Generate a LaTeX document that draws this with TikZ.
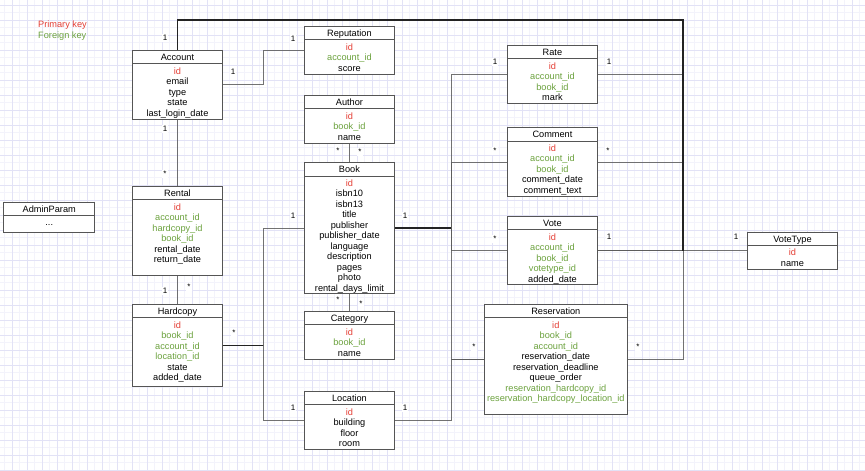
\documentclass[tikz,border=0pt]{standalone}
\usepackage{fontspec}
\setmainfont{Liberation Sans}
\usetikzlibrary{positioning}

\newcommand\pkey[1]{\textcolor{pkcolor}{#1}}
\newcommand\fkey[1]{\textcolor{fkcolor}{#1}}

\begin{document}
\begin{tikzpicture}[x=1pt, y=-1pt,
    entity/.style={draw=boxcolor, fill=white, line width=0.9pt, anchor=north west, minimum width=90pt, inner sep=0pt},
    head/.style={draw=boxcolor, line width=0.9pt, anchor=north, minimum width=90pt, minimum height=13.3pt, inner sep=0pt, text height=6.5pt, text depth=0pt, font=\fontsize{9.2}{10.5}\selectfont},
    fields/.style={anchor=north, align=center, inner sep=0pt, font=\fontsize{9.2}{10.5}\selectfont},
    link/.style={draw=linkcolor, line width=1pt, opacity=0.85},
    trunk/.style={draw=trunkcolor, line width=1.8pt},
    mult/.style={fill=white, inner sep=1pt, font=\fontsize{8}{9}\selectfont},
    ]

    % colours
    \definecolor{pkcolor}{RGB}{228,62,52}
    \definecolor{fkcolor}{RGB}{108,162,62}
    \definecolor{boxcolor}{RGB}{85,85,85}
    \definecolor{linkcolor}{RGB}{90,90,90}
    \definecolor{trunkcolor}{RGB}{35,35,35}
    \definecolor{gridmajor}{RGB}{226,226,246}
    \definecolor{gridminor}{RGB}{243,243,251}

    % page and grid
    \useasboundingbox (0,0) rectangle (865,471);
    \fill[white] (0,0) rectangle (865,471);
    \foreach \gx in {4.5,19.5,...,864} \draw[gridminor, line width=0.6pt] (\gx,0) -- (\gx,471);
    \foreach \gy in {12.5,27.5,...,470} \draw[gridminor, line width=0.6pt] (0,\gy) -- (865,\gy);
    \foreach \gx in {12,27,...,860} \draw[gridmajor, line width=0.9pt] (\gx,0) -- (\gx,471);
    \foreach \gy in {5,20,...,470} \draw[gridmajor, line width=0.9pt] (0,\gy) -- (865,\gy);

    % legend
    \node[anchor=west, inner sep=0pt, text=pkcolor, font=\fontsize{9.2}{10.5}\selectfont] (legend pk) at (38,25.5) {Primary key};
    \node[anchor=west, inner sep=0pt, text=fkcolor, font=\fontsize{9.2}{10.5}\selectfont] (legend fk) at (38,36.5) {Foreign key};

    % entities
    \node[entity, minimum height=69] (account) at (132,50) {};
    \node[head] (account head) at (account.north) {Account};
    \node[fields, below=3pt of account head] (account fields) {\pkey{id}\\email\\type\\state\\last\_login\_date};

    \node[entity, minimum height=48] (reputation) at (304,26) {};
    \node[head] (reputation head) at (reputation.north) {Reputation};
    \node[fields, below=3pt of reputation head] (reputation fields) {\pkey{id}\\\fkey{account\_id}\\score};

    \node[entity, minimum height=48] (author) at (304,95) {};
    \node[head] (author head) at (author.north) {Author};
    \node[fields, below=3pt of author head] (author fields) {\pkey{id}\\\fkey{book\_id}\\name};

    \node[entity, minimum height=131] (book) at (304,162.3) {};
    \node[head] (book head) at (book.north) {Book};
    \node[fields, below=3pt of book head] (book fields) {\pkey{id}\\isbn10\\isbn13\\title\\publisher\\publisher\_date\\language\\description\\pages\\photo\\rental\_days\_limit};

    \node[entity, minimum height=48.3] (category) at (304,311) {};
    \node[head] (category head) at (category.north) {Category};
    \node[fields, below=3pt of category head] (category fields) {\pkey{id}\\\fkey{book\_id}\\name};

    \node[entity, minimum height=58] (location) at (304,391) {};
    \node[head] (location head) at (location.north) {Location};
    \node[fields, below=3pt of location head] (location fields) {\pkey{id}\\building\\floor\\room};

    \node[entity, minimum height=89.3] (rental) at (132,186) {};
    \node[head] (rental head) at (rental.north) {Rental};
    \node[fields, below=3pt of rental head] (rental fields) {\pkey{id}\\\fkey{account\_id}\\\fkey{hardcopy\_id}\\\fkey{book\_id}\\rental\_date\\return\_date};

    \node[entity, minimum height=82] (hardcopy) at (132,304) {};
    \node[head] (hardcopy head) at (hardcopy.north) {Hardcopy};
    \node[fields, below=3pt of hardcopy head] (hardcopy fields) {\pkey{id}\\\fkey{book\_id}\\\fkey{account\_id}\\\fkey{location\_id}\\state\\added\_date};

    \node[entity, minimum width=91, minimum height=30] (adminparam) at (3.3,201.7) {};
    \node[head, minimum width=91] (adminparam head) at (adminparam.north) {AdminParam};
    \node[fields, below=3pt of adminparam head] (adminparam fields) {\vphantom{d}...};

    \node[entity, minimum height=57.7] (rate) at (507,45) {};
    \node[head] (rate head) at (rate.north) {Rate};
    \node[fields, below=3pt of rate head] (rate fields) {\pkey{id}\\\fkey{account\_id}\\\fkey{book\_id}\\mark};

    \node[entity, minimum height=69] (comment) at (507,127.3) {};
    \node[head] (comment head) at (comment.north) {Comment};
    \node[fields, below=3pt of comment head] (comment fields) {\pkey{id}\\\fkey{account\_id}\\\fkey{book\_id}\\comment\_date\\comment\_text};

    \node[entity, minimum height=68.3] (vote) at (507,216) {};
    \node[head] (vote head) at (vote.north) {Vote};
    \node[fields, below=3pt of vote head] (vote fields) {\pkey{id}\\\fkey{account\_id}\\\fkey{book\_id}\\\fkey{votetype\_id}\\added\_date};

    \node[entity, minimum height=36.7] (votetype) at (747,231.8) {};
    \node[head] (votetype head) at (votetype.north) {VoteType};
    \node[fields, below=3pt of votetype head] (votetype fields) {\pkey{id}\\name};

    \node[entity, minimum width=142.7, minimum height=110] (reservation) at (484,304) {};
    \node[head, minimum width=142.7] (reservation head) at (reservation.north) {Reservation};
    \node[fields, below=3pt of reservation head] (reservation fields) {\pkey{id}\\\fkey{book\_id}\\\fkey{account\_id}\\reservation\_date\\reservation\_deadline\\queue\_order\\\fkey{reservation\_hardcopy\_id}\\\fkey{reservation\_hardcopy\_location\_id}};

    % bus lines
    \coordinate (lbus) at (263,0);
    \coordinate (mbus) at (451,0);
    \coordinate (rbus) at (683,20);

    % relations
    \draw[link] (account.east) -| (lbus |- reputation.west) -- (reputation.west);
    \draw[link] (account.south) -- (rental.north);
    \draw[link] (rental.south) -- (hardcopy.north);
    \draw[link] (author.south) -- (book.north);
    \draw[link] (book.south) -- (category.north);
    \draw[link] (hardcopy.east) -| (lbus |- book.west) -- (book.west);
    \draw[link] (hardcopy.east) -| (lbus |- location.west) -- (location.west);
    \draw[link] (book.east) -| (mbus |- rate.west) -- (rate.west);
    \draw[link] (book.east) -| (mbus |- comment.west) -- (comment.west);
    \draw[link] (book.east) -| (mbus |- vote.west) -- (vote.west);
    \draw[link] (book.east) -| (mbus |- reservation.west) -- (reservation.west);
    \draw[link] (location.east) -| (mbus |- reservation.west) -- (reservation.west);
    \draw[link] (account.north) |- (rbus) |- (rate.east);
    \draw[link] (account.north) |- (rbus) |- (comment.east);
    \draw[link] (account.north) |- (rbus) |- (vote.east);
    \draw[link] (account.north) |- (rbus) |- (reservation.east);
    \draw[link] (vote.east) -- (votetype.west);

    % shared segments
    \draw[trunk] (account.north) |- (rbus) -- (rbus |- vote.east);
    \draw[trunk] (book.east) -- (mbus |- book.east);
    \draw[trunk] (hardcopy.east) -- (lbus |- hardcopy.east);

    % multiplicities
    \node[mult] (m account top) at (165,38) {1};
    \node[mult] (m account right) at (233,72) {1};
    \node[mult] (m reputation) at (293,39) {1};
    \node[mult] (m account bottom) at (165,129) {1};
    \node[mult] (m rental top) at (165,174) {*};
    \node[mult] (m rental bottom) at (189,287) {*};
    \node[mult] (m hardcopy top) at (165,291) {1};
    \node[mult] (m author l) at (338,151) {*};
    \node[mult] (m author r) at (360,152) {*};
    \node[mult] (m category l) at (338,300) {*};
    \node[mult] (m category r) at (361,304) {*};
    \node[mult] (m hardcopy right) at (234,333) {*};
    \node[mult] (m book left) at (293,216) {1};
    \node[mult] (m location left) at (293,408) {1};
    \node[mult] (m book right) at (405,216) {1};
    \node[mult] (m location right) at (405,408) {1};
    \node[mult] (m rate left) at (495,62) {1};
    \node[mult] (m comment left) at (495,151) {*};
    \node[mult] (m vote left) at (495,239) {*};
    \node[mult] (m reservation left) at (474,347) {*};
    \node[mult] (m rate right) at (609,62) {1};
    \node[mult] (m comment right) at (608,151) {*};
    \node[mult] (m vote right) at (609,237) {1};
    \node[mult] (m votetype) at (736,237) {1};
    \node[mult] (m reservation right) at (638,347) {*};

\end{tikzpicture}
\end{document}
